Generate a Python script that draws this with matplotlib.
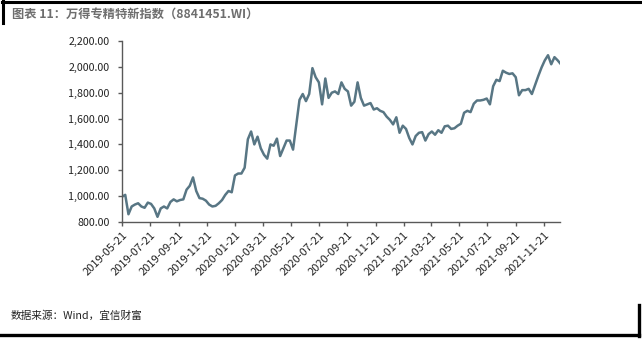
import matplotlib
matplotlib.use('Agg')
import matplotlib.pyplot as plt
from matplotlib.lines import Line2D
from matplotlib.ticker import FuncFormatter
import pandas as pd

plt.rcParams['font.family'] = ['Noto Sans CJK SC', 'DejaVu Sans']

title = '图表 11：万得专精特新指数（8841451.WI）'
source = '数据来源：Wind，宜信财富'

# weekly readings of the index, starting 2019-05-21
start_date = '2019-05-21'
index_values = [
    995, 1010, 860, 920, 935, 945, 920, 910, 950, 940,
    905, 840, 905, 920, 905, 955, 975, 960, 970, 975,
    1050, 1080, 1145, 1040, 985, 980, 965, 935, 920, 925,
    945, 970, 1010, 1040, 1030, 1160, 1175, 1175, 1220, 1440,
    1500, 1400, 1460, 1370, 1320, 1290, 1400, 1390, 1445, 1310,
    1370, 1430, 1430, 1360, 1550, 1745, 1790, 1735, 1790, 1990,
    1920, 1880, 1710, 1910, 1760, 1800, 1810, 1790, 1880, 1830,
    1810, 1700, 1730, 1880, 1760, 1700, 1710, 1720, 1670, 1680,
    1660, 1650, 1615, 1590, 1555, 1610, 1490, 1545, 1520, 1450,
    1400, 1465, 1490, 1495, 1430, 1480, 1500, 1475, 1510, 1490,
    1540, 1545, 1520, 1525, 1545, 1560, 1645, 1660, 1650, 1715,
    1740, 1740, 1745, 1755, 1710, 1850, 1900, 1890, 1970, 1955,
    1945, 1950, 1920, 1780, 1820, 1820, 1830, 1790, 1860, 1930,
    1995, 2050, 2090, 2020, 2075, 2050, 2020,
]

xtick_labels = [
    '2019-05-21', '2019-07-21', '2019-09-21', '2019-11-21',
    '2020-01-21', '2020-03-21', '2020-05-21', '2020-07-21',
    '2020-09-21', '2020-11-21', '2021-01-21', '2021-03-21',
    '2021-05-21', '2021-07-21', '2021-09-21', '2021-11-21',
]
yticks = [800, 1000, 1200, 1400, 1600, 1800, 2000, 2200]

dates = pd.date_range(start_date, periods=len(index_values), freq='7D')

W, H = 642, 340
fig = plt.figure(figsize=(W / 100, H / 100), dpi=100)
ax = fig.add_axes([122 / W, 1 - 222 / H, (560 - 122) / W, (222 - 41) / H])

ax.plot(dates, index_values, color='#587684', lw=1.8, solid_joinstyle='round')

ax.set_ylim(800, 2200)
ax.set_xlim(pd.Timestamp('2019-05-21'), pd.Timestamp('2021-12-26'))
ax.set_yticks(yticks)
ax.yaxis.set_major_formatter(FuncFormatter(lambda v, p: f'{v:,.2f}'))
ax.set_xticks(pd.to_datetime(xtick_labels))
ax.set_xticklabels(xtick_labels, rotation=45, ha='right', rotation_mode='anchor')

for s in ['top', 'right']:
    ax.spines[s].set_visible(False)
for s in ['left', 'bottom']:
    ax.spines[s].set_color('#595959')
    ax.spines[s].set_linewidth(1.0)
ax.tick_params(axis='both', direction='out', length=3, width=1.0, color='#595959',
               labelcolor='#222222')
ax.tick_params(axis='y', pad=6, labelsize=7.7)
ax.tick_params(axis='x', pad=3, labelsize=8)

# title and source
fig.text(12 / W, 1 - 14 / H, title, fontsize=8.8, fontweight='bold',
         color='#6e6e6e', ha='left', va='center')
fig.text(11 / W, 1 - 316 / H, source, fontsize=7.7, color='#222222',
         ha='left', va='center')

# frame lines of the report layout
fig.add_artist(Line2D([2 / W, 1], [1 - 1.5 / H, 1 - 1.5 / H], color='black', lw=2.2,
                      transform=fig.transFigure))
fig.add_artist(Line2D([3 / W, 3 / W], [1, 1 - 23 / H], color='black', lw=2.2,
                      transform=fig.transFigure))
fig.add_artist(Line2D([0, 639 / W], [1 - 335 / H, 1 - 335 / H], color='black', lw=2.4,
                      transform=fig.transFigure))
fig.add_artist(Line2D([638.5 / W, 638.5 / W], [1 - 305 / H, 1 - 336 / H], color='black',
                      lw=2.4, transform=fig.transFigure))

fig.savefig('out.png', dpi=100)
